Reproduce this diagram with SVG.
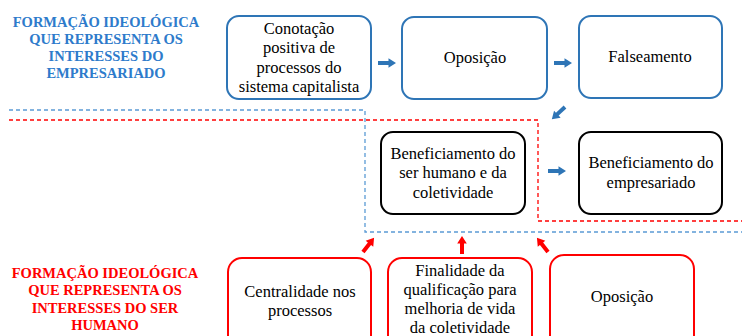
<svg xmlns="http://www.w3.org/2000/svg" xmlns:xlink="http://www.w3.org/1999/xlink" width="742" height="336" viewBox="0 0 742 336">
<style>
.bg{fill:#ffffff}
.box{fill:#ffffff;stroke-width:2}
.blue{stroke:#2E75B6}
.black{stroke:#000000}
.red{stroke:#FF0000}
.t{font-family:'Liberation Serif',Tinos,'DejaVu Serif',serif;font-size:16.5px;fill:#000000;text-anchor:middle}
.title{font-family:'Liberation Serif',Tinos,'DejaVu Serif',serif;font-size:14.5px;font-weight:bold;text-anchor:middle}
.dash{fill:none;stroke-width:1.3;stroke-dasharray:4 3}
.ab{fill:#2E75B6}
.ar{fill:#FF0000}
</style>
<defs>
<path id="arr" d="M0,-2 L10.5,-2 L10.5,-4.8 L18,0 L10.5,4.8 L10.5,2 L0,2 Z"/>
</defs>
<rect class="bg" x="0" y="0" width="742" height="336"/>

<g id="title-empresariado" class="title" fill="#2E7BCB">
<text x="106" y="27">FORMAÇÃO IDEOLÓGICA</text>
<text x="106" y="44">QUE REPRESENTA OS</text>
<text x="106" y="61">INTERESSES DO</text>
<text x="106" y="78">EMPRESARIADO</text>
</g>

<g id="title-ser-humano" class="title" fill="#FF0000">
<text x="105" y="278">FORMAÇÃO IDEOLÓGICA</text>
<text x="105" y="295">QUE REPRESENTA OS</text>
<text x="105" y="313">INTERESSES DO SER</text>
<text x="105" y="330">HUMANO</text>
</g>

<g id="connectors">
<path class="dash" stroke="#5B9BD5" d="M9,110 H365 V232 H742"/>
<path class="dash" stroke="#FF0000" d="M9,120 H538 V221 H742"/>
<use xlink:href="#arr" class="ab" transform="translate(378,63)"/>
<use xlink:href="#arr" class="ab" transform="translate(554,63)"/>
<use xlink:href="#arr" class="ab" transform="translate(565,107) rotate(137)"/>
<use xlink:href="#arr" class="ab" transform="translate(548,171)"/>
<use xlink:href="#arr" class="ar" transform="translate(363,252) rotate(-52)"/>
<use xlink:href="#arr" class="ar" transform="translate(462,254) rotate(-90)"/>
<use xlink:href="#arr" class="ar" transform="translate(548,252) rotate(-128)"/>
</g>

<g id="n-conotacao">
<rect class="box blue" x="227" y="16" width="144" height="83" rx="12"/>
<text class="t" x="299" y="34">Conotação</text>
<text class="t" x="299" y="53">positiva de</text>
<text class="t" x="299" y="73">processos do</text>
<text class="t" x="299" y="92">sistema capitalista</text>
</g>

<g id="n-oposicao-top">
<rect class="box blue" x="402" y="17" width="145" height="82" rx="12"/>
<text class="t" x="475" y="63">Oposição</text>
</g>

<g id="n-falseamento">
<rect class="box blue" x="579" y="16" width="143" height="82" rx="12"/>
<text class="t" x="650" y="62">Falseamento</text>
</g>

<g id="n-benef-ser-humano">
<rect class="box black" x="381" y="132" width="144" height="82" rx="12"/>
<text class="t" x="453" y="158.5">Beneficiamento do</text>
<text class="t" x="453" y="178">ser humano e da</text>
<text class="t" x="453" y="197.5">coletividade</text>
</g>

<g id="n-benef-empresariado">
<rect class="box black" x="579" y="132" width="143" height="82" rx="12"/>
<text class="t" x="651" y="168">Beneficiamento do</text>
<text class="t" x="651" y="188">empresariado</text>
</g>

<g id="n-centralidade">
<rect class="box red" x="228" y="258" width="143" height="92" rx="14"/>
<text class="t" x="300" y="297">Centralidade nos</text>
<text class="t" x="300" y="316">processos</text>
</g>

<g id="n-finalidade">
<rect class="box red" x="388" y="258" width="144" height="92" rx="14"/>
<text class="t" x="460" y="276">Finalidade da</text>
<text class="t" x="460" y="295">qualificação para</text>
<text class="t" x="460" y="314">melhoria de vida</text>
<text class="t" x="460" y="333">da coletividade</text>
</g>

<g id="n-oposicao-bottom">
<rect class="box red" x="550" y="255" width="144" height="95" rx="14"/>
<text class="t" x="622" y="302">Oposição</text>
</g>
</svg>
